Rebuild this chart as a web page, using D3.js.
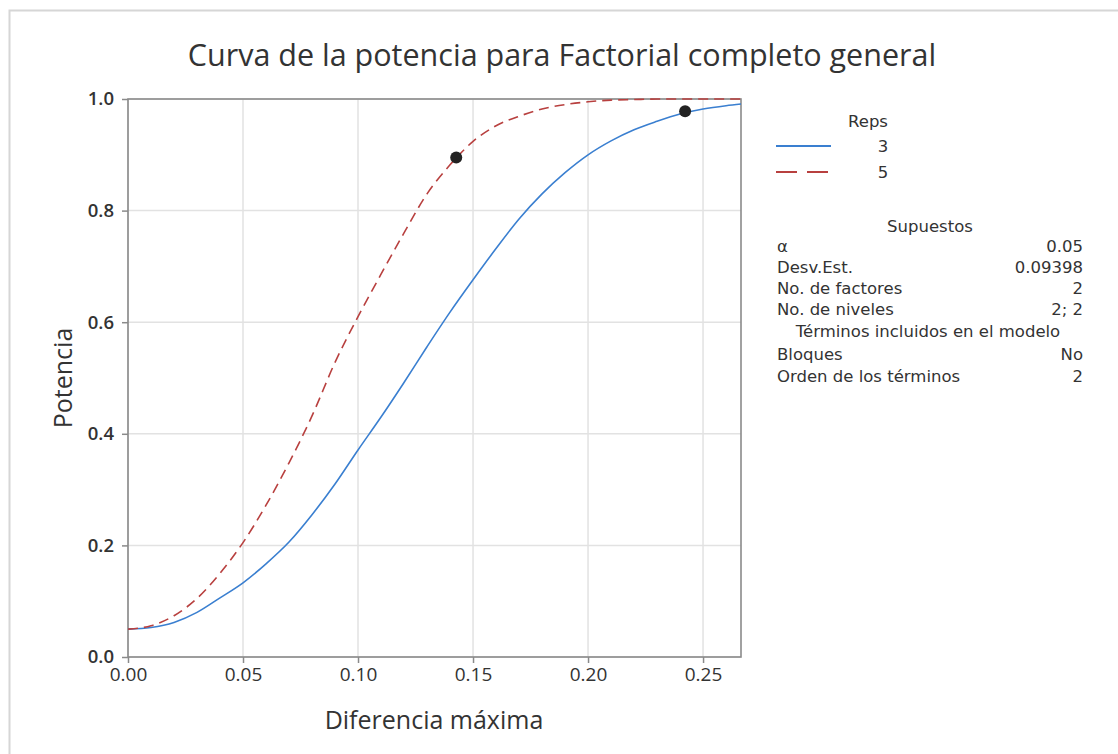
<!DOCTYPE html>
<html><head><meta charset="utf-8">
<script src="https://cdn.jsdelivr.net/npm/d3@7"></script>
<style>
body{margin:0;background:#fff}
svg{display:block}
text{font-family:"Open Sans","Noto Sans",sans-serif;fill:#333}
text.pn{font-family:"DejaVu Sans",sans-serif}
</style>
</head><body>
<svg id="c" width="1118" height="754"></svg>
<script>
// ---- data ----
const diffs  = [0,0.01,0.02,0.03,0.04,0.05,0.06,0.07,0.08,0.09,0.10,0.11,0.12,0.13,0.14,0.15,0.16,0.17,0.18,0.19,0.20,0.21,0.22,0.23,0.24,0.25,0.26,0.2665];
const power3 = [0.050,0.053,0.062,0.080,0.106,0.133,0.167,0.206,0.255,0.310,0.371,0.430,0.492,0.556,0.618,0.676,0.732,0.785,0.830,0.868,0.900,0.925,0.945,0.960,0.973,0.982,0.988,0.991];
const power5 = [0.050,0.056,0.074,0.105,0.150,0.205,0.272,0.348,0.432,0.528,0.610,0.686,0.760,0.830,0.882,0.924,0.952,0.969,0.982,0.990,0.995,0.998,0.999,1.0,1.0,1.0,1.0,1.0];
const markerDiffs = [0.1427, 0.2422];
const markerPower = [0.895, 0.978];
const xTicks = [0,0.05,0.10,0.15,0.20,0.25];
const yTicks = [0,0.2,0.4,0.6,0.8,1.0];
const repsLabels = ["3","5"];
const assumpLabels = ["α","Desv.Est.","No. de factores","No. de niveles"];
const assumpValues = ["0.05","0.09398","2","2; 2"];
const termLabels = ["Bloques","Orden de los términos"];
const termValues = ["No","2"];

const svg = d3.select("#c");
const blue = "#3a7fd0", red = "#b8403f";
const FS = 16.5;

// outer frame
svg.append("path").attr("d","M9.5,754 L9.5,10.5 L1118,10.5")
  .attr("fill","none").attr("stroke","#d6d6d6").attr("stroke-width",2);

const x = d3.scaleLinear().domain([0,0.2665]).range([128,741]);
const y = d3.scaleLinear().domain([0,1]).range([657,99]);

// grid
svg.append("g").selectAll("line").data(xTicks).join("line")
  .attr("x1",d=>x(d)).attr("x2",d=>x(d)).attr("y1",y(0)).attr("y2",y(1))
  .attr("stroke","#e2e2e2").attr("stroke-width",1.5);
svg.append("g").selectAll("line").data(yTicks).join("line")
  .attr("y1",d=>y(d)).attr("y2",d=>y(d)).attr("x1",x(0)).attr("x2",741)
  .attr("stroke","#e2e2e2").attr("stroke-width",1.5);

// axes
const xa = svg.append("g").attr("transform",`translate(0,${y(0)})`)
  .call(d3.axisBottom(x).tickValues(xTicks).tickFormat(d3.format(".2f")).tickSize(6).tickPadding(5));
const ya = svg.append("g").attr("transform",`translate(${x(0)},0)`)
  .call(d3.axisLeft(y).tickValues(yTicks).tickFormat(d3.format(".1f")).tickSize(6).tickPadding(8));
[xa,ya].forEach(g=>{
  g.select(".domain").remove();
  g.selectAll(".tick line").attr("stroke","#8a8a8a").attr("stroke-width",1.5);
  g.selectAll(".tick text").attr("fill","#333").style("font-family",'"Open Sans","Noto Sans",sans-serif');
});
xa.selectAll(".tick text").attr("font-size",19);
ya.selectAll(".tick text").attr("font-size",18.5).attr("font-weight",600);

// plot frame
svg.append("rect").attr("x",x(0)).attr("y",y(1)).attr("width",741-x(0)).attr("height",y(0)-y(1))
  .attr("fill","none").attr("stroke","#8a8a8a").attr("stroke-width",1.6);

// curves
const line = (vals)=>d3.line().x((d,i)=>x(diffs[i])).y(d=>y(d)).curve(d3.curveMonotoneX)(vals);
svg.append("path").attr("d",line(power3)).attr("fill","none").attr("stroke",blue).attr("stroke-width",1.6);
svg.append("path").attr("d",line(power5)).attr("fill","none").attr("stroke",red).attr("stroke-width",1.6)
  .attr("stroke-dasharray","10,6");

// markers
svg.append("g").selectAll("circle").data(markerDiffs).join("circle")
  .attr("cx",d=>x(d)).attr("cy",(d,i)=>y(markerPower[i])).attr("r",6).attr("fill","#222");

// titles
svg.append("text").attr("x",562).attr("y",66).attr("text-anchor","middle")
  .attr("font-size",30.5).text("Curva de la potencia para Factorial completo general");
svg.append("text").attr("x",434).attr("y",729).attr("text-anchor","middle")
  .attr("font-size",25).text("Diferencia máxima");
svg.append("text").attr("transform","translate(72,378) rotate(-90)").attr("text-anchor","middle")
  .attr("font-size",25).text("Potencia");

// legend
svg.append("text").attr("class","pn").attr("x",868).attr("y",127).attr("text-anchor","middle").attr("font-size",FS).text("Reps");
const legY = [146,172];
svg.append("g").selectAll("line").data(repsLabels).join("line")
  .attr("x1",776).attr("x2",831).attr("y1",(d,i)=>legY[i]).attr("y2",(d,i)=>legY[i])
  .attr("stroke",(d,i)=>i?red:blue).attr("stroke-width",1.8)
  .attr("stroke-dasharray",(d,i)=>i?"21,10":null);
svg.append("g").selectAll("text").data(repsLabels).join("text").attr("class","pn")
  .attr("x",883).attr("y",(d,i)=>legY[i]+6).attr("text-anchor","middle").attr("font-size",FS).text(d=>d);

// assumptions
svg.append("text").attr("class","pn").attr("x",930).attr("y",232).attr("text-anchor","middle").attr("font-size",FS).text("Supuestos");
const aY=[252,273,294,315];
svg.append("g").selectAll("text").data(assumpLabels).join("text").attr("class","pn")
  .attr("x",777).attr("y",(d,i)=>aY[i]).attr("font-size",FS).text(d=>d);
svg.append("g").selectAll("text").data(assumpValues).join("text").attr("class","pn")
  .attr("x",1083).attr("y",(d,i)=>aY[i]).attr("text-anchor","end").attr("font-size",FS).text(d=>d);
svg.append("text").attr("class","pn").attr("x",928).attr("y",337).attr("text-anchor","middle").attr("font-size",FS).text("Términos incluidos en el modelo");
const tY=[360,382];
svg.append("g").selectAll("text").data(termLabels).join("text").attr("class","pn")
  .attr("x",777).attr("y",(d,i)=>tY[i]).attr("font-size",FS).text(d=>d);
svg.append("g").selectAll("text").data(termValues).join("text").attr("class","pn")
  .attr("x",1083).attr("y",(d,i)=>tY[i]).attr("text-anchor","end").attr("font-size",FS).text(d=>d);
</script>
</body></html>
